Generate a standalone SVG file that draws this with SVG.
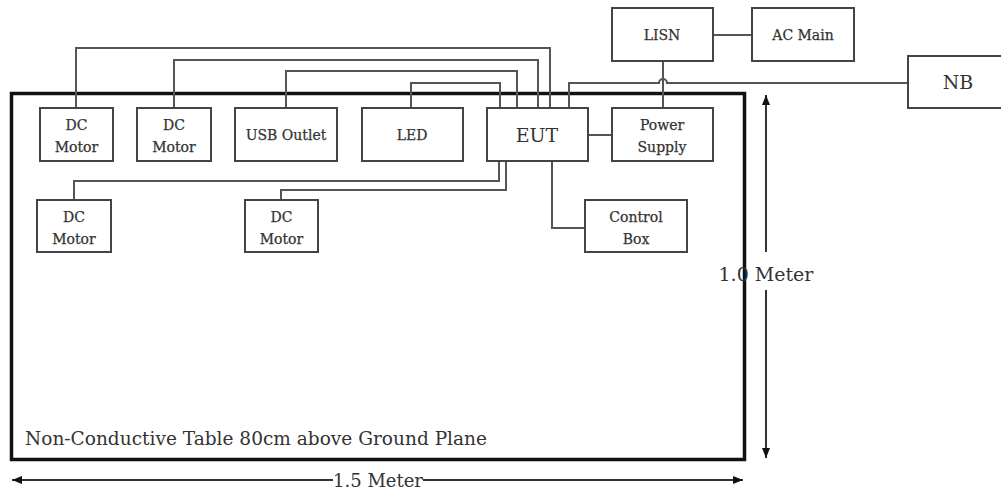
<svg xmlns="http://www.w3.org/2000/svg" width="1001" height="495" viewBox="0 0 1001 495">
<defs>
<marker id="ah" viewBox="0 0 10 10" refX="10" refY="5" markerWidth="10" markerHeight="10" markerUnits="userSpaceOnUse" orient="auto-start-reverse">
<path d="M0,1 L10,5 L0,9 Z" fill="#111"/>
</marker>
</defs>
<style>
.box{fill:#fff;stroke:#444;stroke-width:2}
.t{font-family:"DejaVu Serif",serif;font-size:14px;fill:#333;stroke:#333;stroke-width:0.25;text-anchor:middle}
.tb{font-family:"DejaVu Serif",serif;font-size:19px;fill:#333;text-anchor:middle}
.w{fill:none;stroke:#555;stroke-width:2}
.dim{fill:none;stroke:#333;stroke-width:2}
</style>
<rect width="1001" height="495" fill="#fff"/>
<g id="table">
<rect x="11.5" y="93.5" width="733" height="366" fill="none" stroke="#111" stroke-width="3.5"/>
<text x="25" y="445" font-family="DejaVu Serif, serif" font-size="19" fill="#333" textLength="462" lengthAdjust="spacingAndGlyphs">Non-Conductive Table 80cm above Ground Plane</text>
</g>
<g id="connectors">
<path class="w" d="M76,108 V48 H550 V108"/>
<path class="w" d="M174,108 V60 H538 V108"/>
<path class="w" d="M286,108 V71 H517 V108"/>
<path class="w" d="M411,108 V83 H500 V108"/>
<path class="w" d="M569,108 V83 H659 A4,4 0 0 1 667,83 H908"/>
<path class="w" d="M663,61 V108"/>
<path class="w" d="M713,35 H752"/>
<path class="w" d="M588,135 H612"/>
<path class="w" d="M552,161 V228 H585"/>
<path class="w" d="M74,200 V181 H499 V161"/>
<path class="w" d="M281,200 V190 H506 V161"/>
</g>
<g id="dc-motor-1"><rect class="box" x="40" y="108" width="73" height="53"/><text class="t" x="76.5" y="130">DC</text><text class="t" x="76.5" y="152">Motor</text></g>
<g id="dc-motor-2"><rect class="box" x="137" y="108" width="74" height="53"/><text class="t" x="174" y="130">DC</text><text class="t" x="174" y="152">Motor</text></g>
<g id="usb-outlet"><rect class="box" x="235" y="108" width="102" height="53"/><text class="t" x="286" y="140">USB Outlet</text></g>
<g id="led"><rect class="box" x="362" y="108" width="101" height="53"/><text class="t" x="412" y="140">LED</text></g>
<g id="eut"><rect class="box" x="487" y="108" width="101" height="53"/><text class="tb" x="537" y="142">EUT</text></g>
<g id="power-supply"><rect class="box" x="612" y="108" width="101" height="53"/><text class="t" x="662" y="130">Power</text><text class="t" x="662" y="152">Supply</text></g>
<g id="lisn"><rect class="box" x="612" y="8" width="101" height="53"/><text class="t" x="662" y="40">LISN</text></g>
<g id="ac-main"><rect class="box" x="752" y="8" width="102" height="53"/><text class="t" x="803" y="40">AC Main</text></g>
<g id="nb"><rect class="box" x="908" y="56" width="100" height="52"/><text class="tb" x="958" y="89">NB</text></g>
<g id="dc-motor-3"><rect class="box" x="37" y="200" width="74" height="52"/><text class="t" x="74" y="222">DC</text><text class="t" x="74" y="244">Motor</text></g>
<g id="dc-motor-4"><rect class="box" x="245" y="200" width="73" height="52"/><text class="t" x="281.5" y="222">DC</text><text class="t" x="281.5" y="244">Motor</text></g>
<g id="control-box"><rect class="box" x="585" y="200" width="102" height="52"/><text class="t" x="636" y="222">Control</text><text class="t" x="636" y="244">Box</text></g>
<g id="dimensions">
<path class="dim" d="M766,252 V95" marker-end="url(#ah)"/>
<path class="dim" d="M766,290 V458" marker-end="url(#ah)"/>
<text x="766" y="281" font-family="DejaVu Serif, serif" font-size="19" fill="#333" text-anchor="middle">1.0 Meter</text>
<path class="dim" d="M333,480 H12" marker-end="url(#ah)"/>
<path class="dim" d="M423,480 H743" marker-end="url(#ah)"/>
<text x="378" y="487" font-family="DejaVu Serif, serif" font-size="18" fill="#333" text-anchor="middle">1.5 Meter</text>
</g>
</svg>
